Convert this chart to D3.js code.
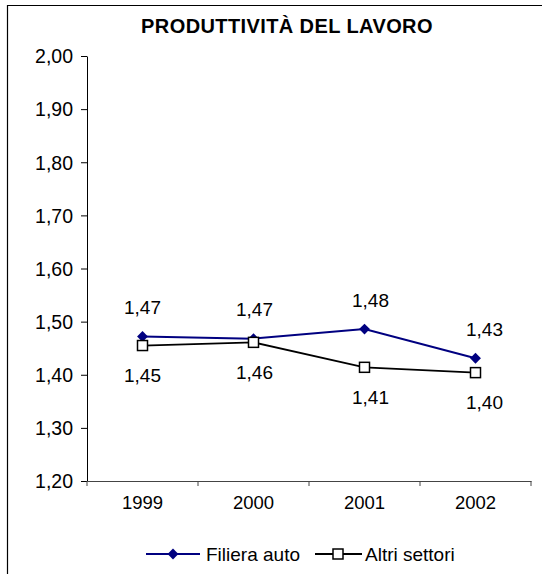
<!DOCTYPE html>
<html>
<head>
<meta charset="utf-8">
<script src="https://cdn.jsdelivr.net/npm/d3@7"></script>
<style>
  body { margin: 0; background: #fff; }
  text { font-family: Arial, "Liberation Sans", sans-serif; fill: #000; }
</style>
</head>
<body>
<div id="chart"></div>
<script>
const years = ["1999", "2000", "2001", "2002"]
const filiera = [1.472, 1.468, 1.486, 1.431]
const altri = [1.455, 1.461, 1.414, 1.404]
const filieraLabels = ["1,47", "1,47", "1,48", "1,43"]
const altriLabels = ["1,45", "1,46", "1,41", "1,40"]
const yTicks = [1.2, 1.3, 1.4, 1.5, 1.6, 1.7, 1.8, 1.9, 2.0]

const W = 542, H = 574
const plot = {left: 87, right: 531, top: 56, bottom: 481}
const labelShift = [0, 1, 6, 9] // excel nudges the labels a bit to the right

const svg = d3.select("#chart").append("svg")
    .attr("width", W)
    .attr("height", H)

// frame (only top and left sides are visible)
svg.append("path")
    .attr("d", `M7.5,${H} V5.5 H${W}`)
    .attr("fill", "none")
    .attr("stroke", "#000")
    .attr("stroke-width", 1.2)

svg.append("text")
    .attr("x", 287)
    .attr("y", 33)
    .attr("text-anchor", "middle")
    .style("font-weight", "bold")
    .style("font-size", "20px")
    .style("letter-spacing", "0.4px")
    .text("PRODUTTIVITÀ DEL LAVORO")

const x = d3.scaleBand()
    .domain(years)
    .range([plot.left, plot.right])

const y = d3.scaleLinear()
    .domain([1.2, 2.0])
    .range([plot.bottom, plot.top])

const fmt = d => d.toFixed(2).replace(".", ",")

// Y axis
const yAxis = svg.append("g")
    .attr("transform", `translate(${plot.left},0)`)
    .call(d3.axisLeft(y).tickValues(yTicks).tickFormat(fmt).tickSize(6).tickPadding(8).tickSizeOuter(0))
yAxis.select(".domain").attr("stroke", "#000")
yAxis.selectAll("text").style("font-size", "19.5px").attr("dy", "0.35em")
yAxis.selectAll("line").attr("stroke", "#000")

// X axis
const xAxis = svg.append("g")
    .attr("transform", `translate(0,${plot.bottom})`)
    .call(d3.axisBottom(x).tickSize(0).tickPadding(15))
xAxis.select(".domain").attr("stroke", "#444")
xAxis.selectAll("text").style("font-size", "18.5px")

// category boundary ticks
svg.append("g").selectAll("line")
    .data(years.concat(["end"]))
    .enter()
    .append("line")
      .attr("x1", (d, i) => plot.left + i * x.step())
      .attr("x2", (d, i) => plot.left + i * x.step())
      .attr("y1", plot.bottom)
      .attr("y2", plot.bottom + 5)
      .attr("stroke", "#444")

const cx = d => x(d) + x.bandwidth() / 2

const line = d3.line()
    .x((d, i) => cx(years[i]))
    .y(d => y(d))

// Altri settori
svg.append("path")
    .datum(altri)
    .attr("fill", "none")
    .attr("stroke", "#000")
    .attr("stroke-width", 1.8)
    .attr("d", line)

// Filiera auto
svg.append("path")
    .datum(filiera)
    .attr("fill", "none")
    .attr("stroke", "#000080")
    .attr("stroke-width", 2)
    .attr("d", line)

const diamond = d3.symbol().type(d3.symbolDiamond2).size(75)

svg.selectAll("diamonds")
    .data(filiera)
    .enter()
    .append("path")
      .attr("d", diamond)
      .attr("transform", (d, i) => `translate(${cx(years[i])},${y(d)})`)
      .attr("fill", "#000080")

svg.selectAll("squares")
    .data(altri)
    .enter()
    .append("rect")
      .attr("x", (d, i) => cx(years[i]) - 5)
      .attr("y", d => y(d) - 5)
      .attr("width", 10)
      .attr("height", 10)
      .attr("fill", "#fff")
      .attr("stroke", "#000")
      .attr("stroke-width", 1.5)

// data labels
svg.selectAll("labTop")
    .data(filiera)
    .enter()
    .append("text")
      .attr("x", (d, i) => cx(years[i]) + labelShift[i])
      .attr("y", d => y(d) - 29)
      .attr("dy", "0.35em")
      .attr("text-anchor", "middle")
      .style("font-size", "19px")
      .text((d, i) => filieraLabels[i])

svg.selectAll("labBot")
    .data(altri)
    .enter()
    .append("text")
      .attr("x", (d, i) => cx(years[i]) + labelShift[i])
      .attr("y", d => y(d) + 30)
      .attr("dy", "0.35em")
      .attr("text-anchor", "middle")
      .style("font-size", "19px")
      .text((d, i) => altriLabels[i])

// legend
const legY = 554
const leg = svg.append("g")
leg.append("line").attr("x1", 146).attr("x2", 200).attr("y1", legY).attr("y2", legY)
    .attr("stroke", "#000080").attr("stroke-width", 2)
leg.append("path").attr("d", diamond).attr("transform", `translate(173,${legY})`).attr("fill", "#000080")
leg.append("text").attr("x", 206).attr("y", legY).attr("dy", "0.35em").style("font-size", "19px").text("Filiera auto")

leg.append("line").attr("x1", 315).attr("x2", 362).attr("y1", legY).attr("y2", legY)
    .attr("stroke", "#000").attr("stroke-width", 1.8)
leg.append("rect").attr("x", 333).attr("y", legY - 5).attr("width", 10).attr("height", 10)
    .attr("fill", "#fff").attr("stroke", "#000").attr("stroke-width", 1.5)
leg.append("text").attr("x", 365).attr("y", legY).attr("dy", "0.35em").style("font-size", "19px").text("Altri settori")
</script>
</body>
</html>
